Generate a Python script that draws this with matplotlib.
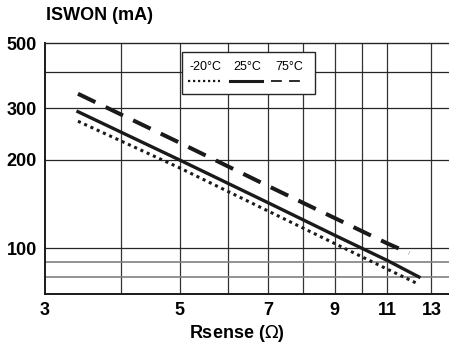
import matplotlib

matplotlib.use("Agg")
import matplotlib.pyplot as plt
from matplotlib.lines import Line2D
from matplotlib.patches import Rectangle
from matplotlib.ticker import FixedLocator, NullFormatter, NullLocator

# values (log-log axes)
rsense = [3.4, 5, 7, 9, 11, 12.4]
iswon_m20 = [271, 188, 134, 104, 85, 75.5]
iswon_25 = [292, 200, 143, 111, 91, 80]
rsense_75 = [3.4, 5, 7, 9, 11, 11.95]
iswon_75 = [336, 229, 163, 127, 104, 96.5]

x_labels = [3, 5, 7, 9, 11, 13]
x_grid = [4, 5, 6, 7, 8, 9, 10, 11, 13]
y_labels = [100, 200, 300, 500]
y_grid_dark = [100, 200, 300, 400]
y_grid_light = [80, 90]

legend_labels = ["-20°C", "25°C", "75°C"]

DOT = dict(color="0.1", lw=2.2, linestyle=(0, (1, 1.25)))
SOLID = dict(color="0.1", lw=2.4, linestyle="-")
DASH = dict(color="0.1", lw=2.9, linestyle=(0, (4.8, 2.8)))

plt.rcParams.update({"font.family": ["Liberation Sans", "DejaVu Sans"], "font.size": 13})

fig = plt.figure(figsize=(4.49, 3.47), dpi=100)
ax = fig.add_axes([0.1002, 0.1527, 0.9, 0.7233])
ax.set_xscale("log")
ax.set_yscale("log")
ax.set_xlim(3, 13.9)
ax.set_ylim(70, 500)

for x in x_grid:
    ax.axvline(x, color="0.2", lw=0.9, zorder=1)
for y in y_grid_dark:
    ax.axhline(y, color="0.15", lw=0.9, zorder=1)
for y in y_grid_light:
    ax.axhline(y, color="0.5", lw=1.2, zorder=1)

ax.plot(rsense, iswon_m20, zorder=3, **DOT)
ax.plot(rsense, iswon_25, zorder=3, **SOLID)
ax.plot(rsense_75, iswon_75, zorder=3, **DASH)

ax.xaxis.set_major_locator(FixedLocator(x_labels))
ax.xaxis.set_minor_locator(NullLocator())
ax.xaxis.set_minor_formatter(NullFormatter())
ax.set_xticklabels([str(v) for v in x_labels], fontweight="bold")
ax.yaxis.set_major_locator(FixedLocator(y_labels))
ax.yaxis.set_minor_locator(NullLocator())
ax.yaxis.set_minor_formatter(NullFormatter())
ax.set_yticklabels([str(v) for v in y_labels], fontweight="bold")
ax.tick_params(axis="both", length=0, labelsize=13)
ax.tick_params(axis="x", pad=6)
ax.tick_params(axis="y", pad=6)

for side in ("left", "bottom"):
    ax.spines[side].set_linewidth(1.4)
    ax.spines[side].set_color("0.1")
ax.spines["top"].set_linewidth(1.0)
ax.spines["top"].set_color("0.15")
ax.spines["right"].set_visible(False)

ax.set_xlabel(r"Rsense ($\Omega$)", fontweight="bold", fontsize=13)
ax.xaxis.set_label_coords(0.475, -0.115)

fig.text(0.102, 0.955, "ISWON (mA)", fontweight="bold", fontsize=13, ha="left", va="center")

# legend box: labels above the line samples
ax.add_patch(Rectangle((0.339, 0.797), 0.329, 0.167, transform=ax.transAxes,
                       facecolor="white", edgecolor="0.15", lw=1.0, zorder=4))
text_x = [0.398, 0.501, 0.605]
seg_x = [(0.354, 0.433), (0.458, 0.537), (0.559, 0.644)]
styles = [dict(DOT, lw=1.6), dict(SOLID, lw=2.2), dict(DASH, lw=1.3, linestyle=(0, (6, 4)))]
for lab, tx, (x0, x1), st in zip(legend_labels, text_x, seg_x, styles):
    ax.text(tx, 0.905, lab, transform=ax.transAxes, ha="center", va="center", fontsize=9, zorder=5)
    ax.add_line(Line2D([x0, x1], [0.85, 0.85], transform=ax.transAxes, zorder=5, **st))

fig.savefig("out.png", dpi=100)
